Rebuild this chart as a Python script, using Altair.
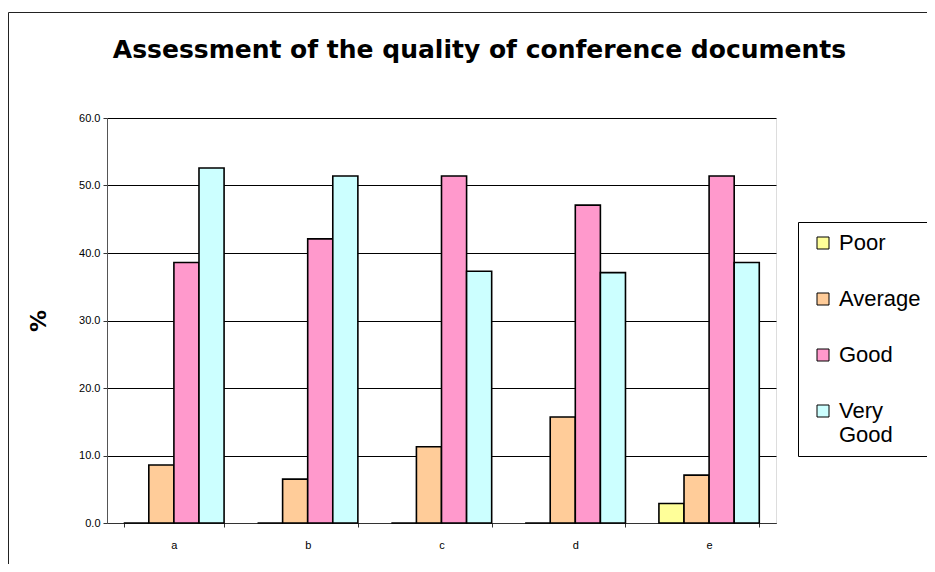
import altair as alt
import pandas as pd

categories = ["a", "b", "c", "d", "e"]
series = ["Poor", "Average", "Good", "Very Good"]
poor = [0.0, 0.0, 0.0, 0.0, 2.9]
average = [8.6, 6.5, 11.3, 15.7, 7.1]
good = [38.6, 42.1, 51.4, 47.1, 51.4]
very_good = [52.6, 51.4, 37.3, 37.1, 38.6]
colors = ["#FFFF99", "#FFCC99", "#FF99CC", "#CCFFFF"]
y_ticks = [0, 10, 20, 30, 40, 50, 60]

rows = []
for s, vals in zip(series, [poor, average, good, very_good]):
    for c, v in zip(categories, vals):
        rows.append({"category": c, "series": s, "value": v})
df = pd.DataFrame(rows)

W, H = 669, 405

bars = alt.Chart(df).mark_bar(stroke="black", strokeWidth=1.6).encode(
    x=alt.X(
        "category:N",
        sort=categories,
        scale=alt.Scale(paddingInner=0.25, paddingOuter=0.125),
        axis=alt.Axis(
            title=None, labelAngle=0, tickBand="extent", grid=False,
            domainColor="#333333", tickColor="#333333", tickSize=4,
            labelFont="Liberation Sans", labelFontSize=11, labelColor="black",
            labelPadding=12,
        ),
    ),
    xOffset=alt.XOffset("series:N", sort=series,
                        scale=alt.Scale(paddingInner=0, paddingOuter=0)),
    y=alt.Y(
        "value:Q",
        scale=alt.Scale(domain=[0, 60], nice=False),
        axis=alt.Axis(
            values=y_ticks, format=".1f", title="%", grid=True,
            gridColor="black", gridWidth=1, gridOpacity=1,
            domainColor="#555555", tickColor="#333333", tickSize=4,
            labelFont="Liberation Sans", labelFontSize=11, labelColor="black",
            labelPadding=3,
            titleFont="DejaVu Sans", titleFontSize=22, titleFontWeight="bold",
            titleColor="black", titlePadding=28,
        ),
    ),
    color=alt.Color(
        "series:N",
        sort=series,
        scale=alt.Scale(domain=series, range=colors),
        legend=alt.Legend(
            orient="none", legendX=691, legendY=104, title=None,
            strokeColor="black", fillColor="white", padding=10,
            symbolType="square", symbolSize=144, symbolStrokeColor="black",
            symbolStrokeWidth=1, symbolOffset=4,
            labelFont="Liberation Sans", labelFontSize=22, labelColor="black",
            labelOffset=5, rowPadding=34, labelLimit=300,
            labelExpr="datum.label == 'Very Good' ? ['Very', 'Good'] : datum.label",
        ),
    ),
)

frame_df = pd.DataFrame({"k": [0]})
left_line = alt.Chart(frame_df).mark_rule(color="#222222", strokeWidth=1).encode(
    x=alt.value(-98.5), y=alt.value(-105.5), y2=alt.value(H + 60)
)
top_line = alt.Chart(frame_df).mark_rule(color="#222222", strokeWidth=1).encode(
    x=alt.value(-98.5), x2=alt.value(W + 200), y=alt.value(-105.5)
)

chart = alt.layer(bars, left_line, top_line).properties(
    width=W,
    height=H,
    title=alt.TitleParams(
        "Assessment of the quality of conference documents",
        font="DejaVu Sans", fontSize=25, fontWeight="bold", color="black",
        anchor="middle", dx=38, dy=71, offset=0, baseline="alphabetic",
    ),
    autosize=alt.AutoSizeParams(type="none"),
    padding={"left": 99, "top": 110, "right": 151, "bottom": 41},
).configure_view(stroke="#808080", strokeWidth=1).configure(background="white")

chart.save("out.html", embed_options={"renderer": "svg", "actions": False})
